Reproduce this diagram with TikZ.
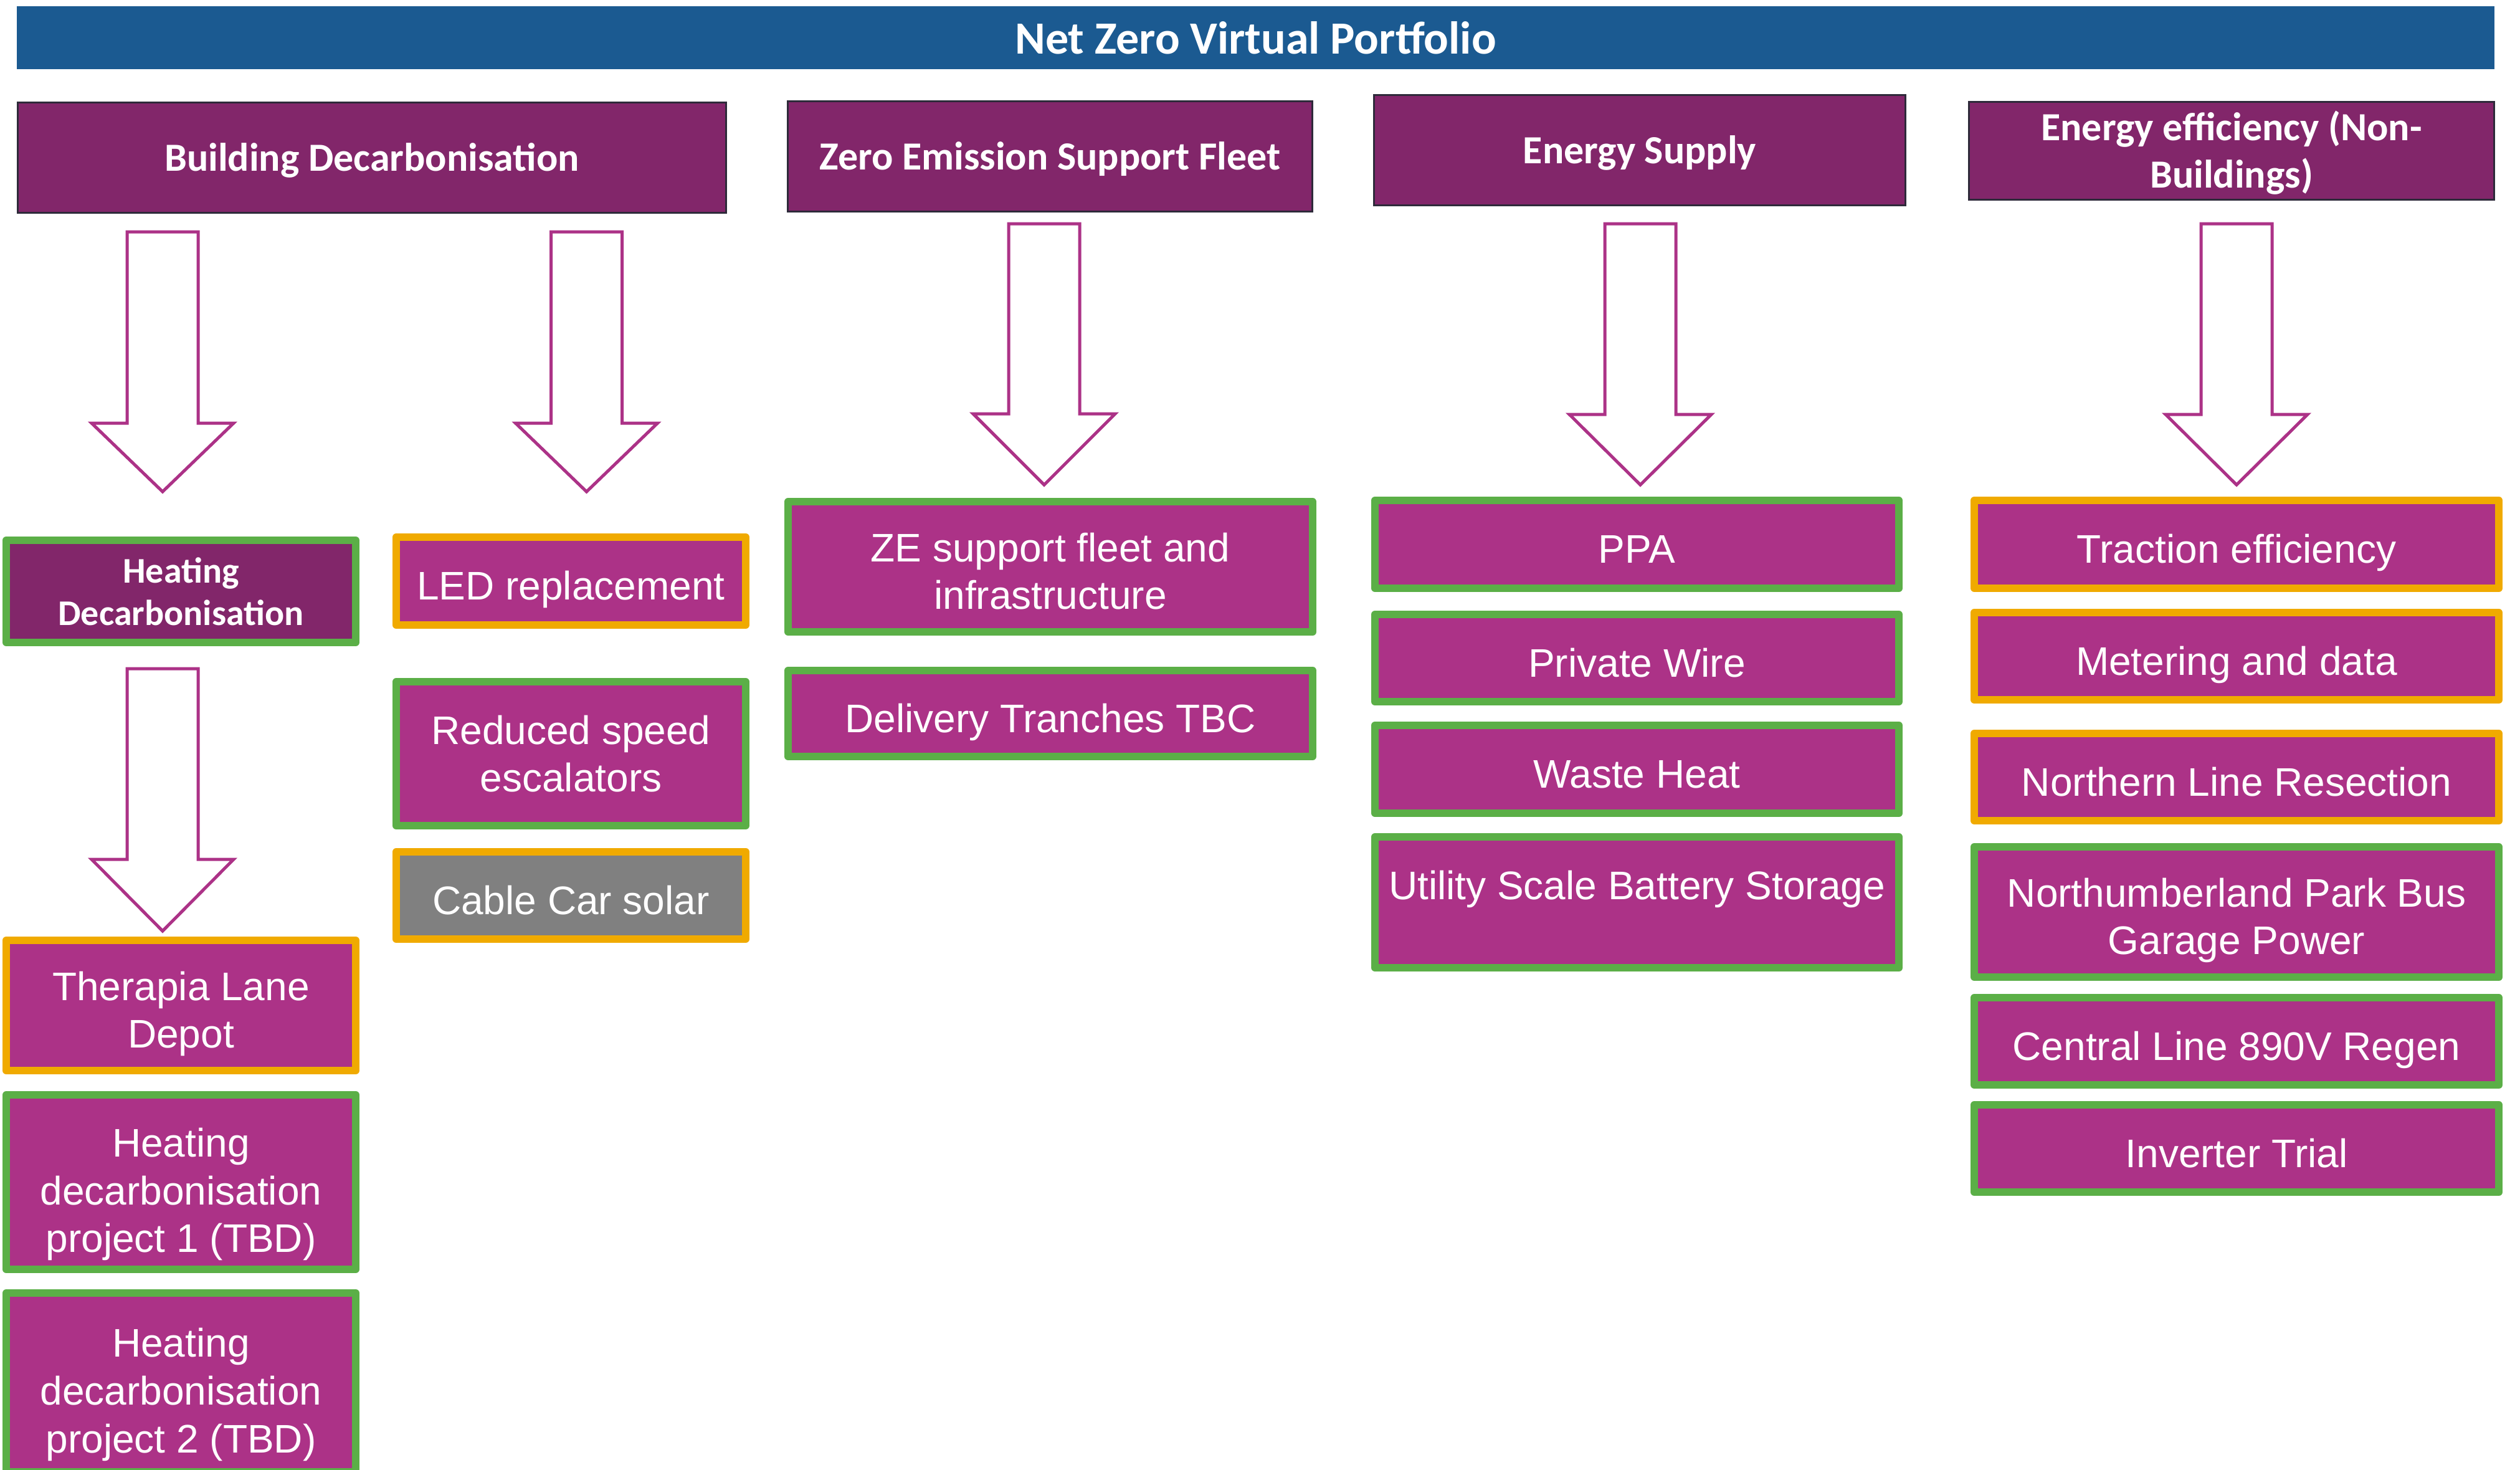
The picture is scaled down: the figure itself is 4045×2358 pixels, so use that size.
\documentclass[tikz,border=0pt]{standalone}
\usepackage{fontspec}
\setmainfont{Liberation Sans}
\newfontfamily\hdfont{Carlito}
\definecolor{tblue}{HTML}{1B5A91}
\definecolor{dpurple}{HTML}{82266A}
\definecolor{lpurple}{HTML}{AC3287}
\definecolor{tgreen}{HTML}{5BAF47}
\definecolor{torange}{HTML}{F0AA00}
\definecolor{tgray}{HTML}{808080}
\definecolor{hborder}{HTML}{2E2A3A}
% struts fixing the vertical placement of text
\newcommand\ft{\rule{0pt}{18.5pt}}
\newcommand\ftt{\rule{0pt}{21.5pt}}
\newcommand\fb{\rule[-3.5pt]{0pt}{3.5pt}}
\newcommand\fs{\ft\fb}
\newcommand\hT{\rule{0pt}{14.5pt}}
\newcommand\hB{\rule[-4pt]{0pt}{4pt}}
\newcommand\blockarr[4]{%
  \draw[blockarrow] ({#1-57},#2) -- ({#1+57},#2) -- ({#1+57},#3) -- ({#1+114},#3) -- (#1,#4) -- ({#1-114},#3) -- ({#1-57},#3) -- cycle;}
\begin{document}
\begin{tikzpicture}[x=0.25pt,y=-0.25pt,
  header/.style={draw=hborder, line width=0.75pt, fill=dpurple, text=white,
    font=\hdfont\bfseries\fontsize{16pt}{19pt}\selectfont, align=center, inner sep=0pt},
  item/.style={line width=3pt, line join=round, fill=lpurple, text=white,
    font=\fontsize{16pt}{19.2pt}\selectfont, align=center, inner sep=0pt},
  gitem/.style={item, draw=tgreen},
  oitem/.style={item, draw=torange},
  blockarrow/.style={draw=lpurple, line width=1.25pt, fill=white, line join=miter},
  txt/.style={text=white, font=\fontsize{16pt}{19.2pt}\selectfont, align=center, inner sep=0pt},
]
\useasboundingbox (0,0) rectangle (4045,2358);
\clip (0,0) rectangle (4045,2358);

% title
\node[fill=tblue, text=white, inner sep=0pt, minimum width=994.25pt, minimum height=25.25pt,
  font=\hdfont\bfseries\fontsize{18.5pt}{22pt}\selectfont] (title) at (2015.5,60.5) {Net Zero Virtual Portfolio};

% headers
\node[header, minimum width=284.25pt, minimum height=44.25pt] (bd) at (597,253) {\hT\hB Building Decarbonisation};
\node[header, minimum width=210.5pt, minimum height=44.25pt] (zesf) at (1685.5,251) {\hT\hB Zero Emission Support Fleet};
\node[header, minimum width=213.25pt, minimum height=44.25pt] (es) at (2632,241) {\hT\hB Energy Supply};
\node[header, minimum width=210.75pt, minimum height=39.25pt] (ee) at (3582,242) {\hT Energy efficiency (Non-\\Buildings)\hB};

% arrows
\blockarr{261}{372}{679}{789}
\blockarr{941.5}{372}{679}{789}
\blockarr{261}{1073}{1379}{1494}
\blockarr{1676}{359}{664}{778}
\blockarr{2633}{359}{665}{778}
\blockarr{3590}{359}{665}{778}

% Building decarbonisation column 1
\node[gitem, fill=dpurple, font=\hdfont\bfseries\fontsize{14.5pt}{17pt}\selectfont,
  minimum width=140.25pt, minimum height=41pt] (hd) at (290.5,949) {Heating\\Decarbonisation};
\node[oitem, minimum width=140.25pt, minimum height=52.25pt] (tl) at (290.5,1613.5) {\ft Therapia Lane\\Depot\fb};
\node[gitem, minimum width=140.25pt, minimum height=70pt] (h1) at (290.5,1897) {\ftt Heating\\decarbonisation\\project 1 (TBD)\fb};
\node[gitem, minimum width=140.25pt, minimum height=71.75pt] (h2) at (290.5,2218.5) {\ftt Heating\\decarbonisation\\project 2 (TBD)\fb};

% Building decarbonisation column 2
\node[oitem, minimum width=140.25pt, minimum height=35.25pt] (led) at (916.5,932.5) {\fs LED replacement};
\node[gitem, minimum width=140.25pt, minimum height=57.75pt] (rse) at (916.5,1209.5) {Reduced speed\\escalators};
\node[oitem, fill=tgray, minimum width=140.25pt, minimum height=35pt] (ccs) at (916.5,1437) {\fs Cable Car solar};

% Zero emission support fleet
\node[gitem, minimum width=210.5pt, minimum height=52.25pt] (ze) at (1686,909.5) {\ft ZE support fleet and\\infrastructure\fb};
\node[gitem, minimum width=210.5pt, minimum height=34.5pt] (dt) at (1686,1145) {\fs Delivery Tranches TBC};

% Energy supply
\node[gitem, minimum width=210.25pt, minimum height=35.25pt] (ppa) at (2627.5,873.5) {\fs PPA};
\node[gitem, minimum width=210.25pt, minimum height=35pt] (pw) at (2627.5,1056) {\fs Private Wire};
\node[gitem, minimum width=210.25pt, minimum height=35.25pt] (wh) at (2627.5,1234.5) {\fs Waste Heat};
\node[gitem, minimum width=210.25pt, minimum height=52.5pt] (usb) at (2627.5,1448) {};
\node[txt] (usbtxt) at (2627.5,1413) {\fs Utility Scale Battery Storage};

% Energy efficiency
\node[oitem, minimum width=210.5pt, minimum height=35.25pt] (te) at (3590,873.5) {\fs Traction efficiency};
\node[oitem, minimum width=210.5pt, minimum height=35pt] (md) at (3590,1053) {\fs Metering and data};
\node[oitem, minimum width=210.5pt, minimum height=35pt] (nlr) at (3590,1247) {\fs Northern Line Resection};
\node[gitem, minimum width=210.5pt, minimum height=52.25pt] (npb) at (3590,1463.5) {\ft Northumberland Park Bus\\Garage Power\fb};
\node[gitem, minimum width=210.5pt, minimum height=35pt] (cl) at (3590,1671) {\fs Central Line 890V Regen};
\node[gitem, minimum width=210.5pt, minimum height=35pt] (it) at (3590,1843) {\fs Inverter Trial};
\end{tikzpicture}
\end{document}
